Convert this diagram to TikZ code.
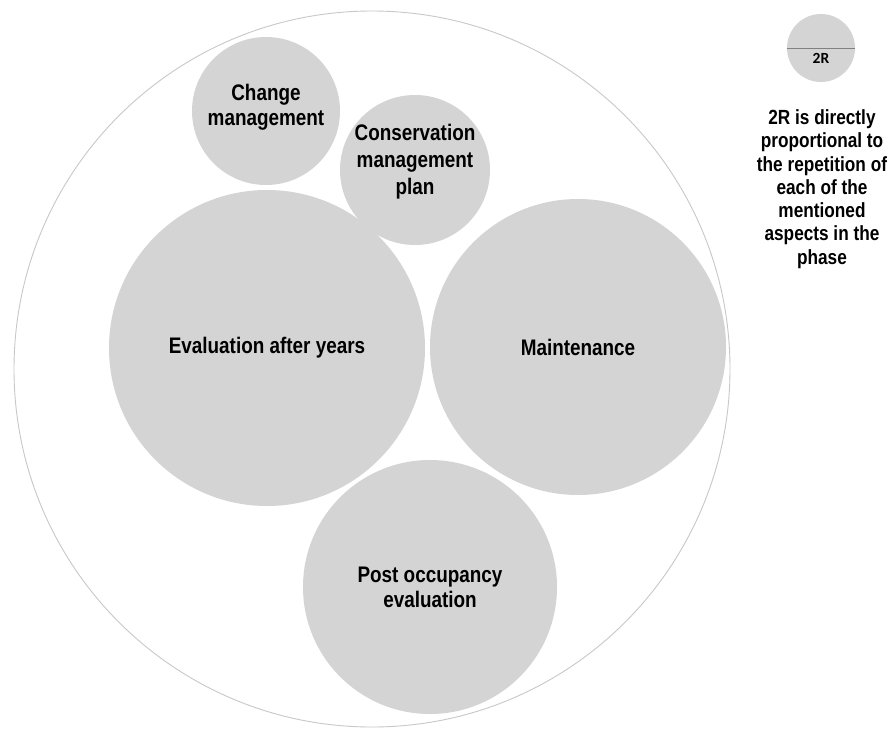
\documentclass[tikz,border=0pt]{standalone}
\usepackage{fontspec}
\setmainfont{Liberation Sans}[FakeStretch=0.84]
\newfontfamily\legfont{Carlito}
\definecolor{bubble}{RGB}{212,212,212}
\definecolor{rim}{RGB}{200,200,200}
\definecolor{divline}{RGB}{128,128,128}
\begin{document}
\begin{tikzpicture}[x=1pt,y=-1pt,
  bub/.style={circle,fill=bubble,inner sep=0pt,minimum size=#1},
  lbl/.style={font=\fontsize{22.5}{25}\selectfont\bfseries,align=center,text=black}]
\useasboundingbox (0,0) rectangle (893,728);
\fill[white] (0,0) rectangle (893,728);
\node[circle,draw=rim,line width=0.9pt,minimum size=716,inner sep=0pt] (outer) at (372,369) {};
\node[bub=148] (cm) at (266,111) {};
\node[bub=150] (cmp) at (415,170) {};
\node[bub=316] (eay) at (267,348) {};
\node[bub=296] (mt) at (578,347) {};
\node[bub=254] (poe) at (430,587) {};
\node[lbl] at (266,107) {Change\\management};
\node[lbl,font=\fontsize{22.5}{27}\selectfont\bfseries] at (415,162) {Conservation\\management\\plan};
\node[lbl] at (eay) {Evaluation after years};
\node[lbl] at (mt) {Maintenance};
\node[lbl] at (poe) {Post occupancy\\evaluation};
\node[bub=68] (leg) at (821,48) {};
\draw[divline,line width=0.8pt] (leg.west) -- (leg.east);
\node[font=\legfont\fontsize{15.5}{17}\selectfont\bfseries] (twor) at (821,58) {2R};
\node[lbl,font=\fontsize{20.5}{23.3}\selectfont\bfseries] (legtxt) at (822,189) {2R is directly\\proportional to\\the repetition of\\each of the\\mentioned\\aspects in the\\phase};
\end{tikzpicture}
\end{document}
